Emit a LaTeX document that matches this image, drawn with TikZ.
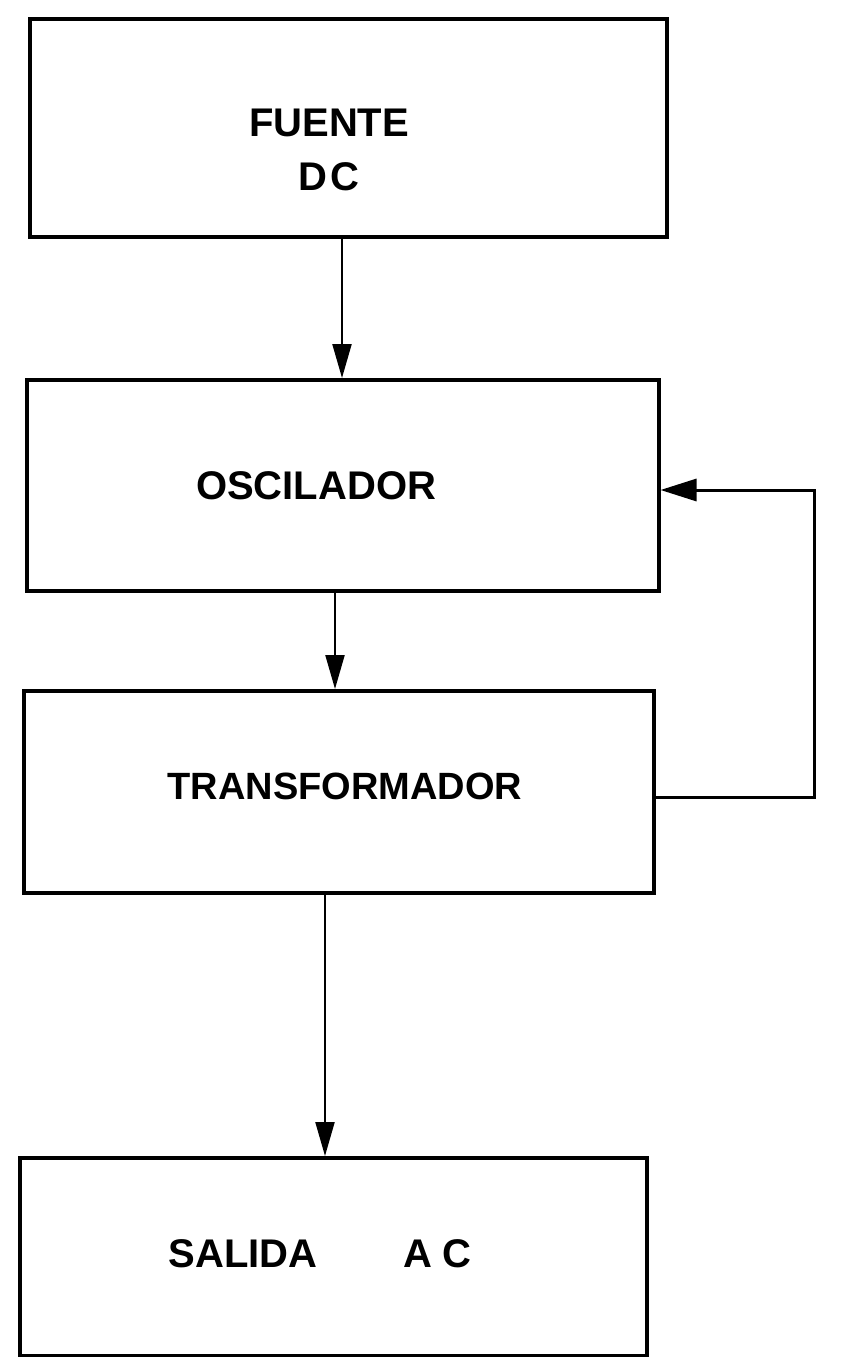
\documentclass[tikz,border=0pt]{standalone}
\usepackage{fontspec}
\setmainfont{Liberation Sans}
\usetikzlibrary{arrows.meta,calc}
\begin{document}
\begin{tikzpicture}[x=1pt,y=-1pt,
  blockbox/.style={draw=black, line width=3.5pt, rectangle, inner sep=0pt, anchor=north west},
  lbl/.style={font=\bfseries\fontsize{40}{54}\selectfont, inner sep=0pt, align=center},
  flow/.style={draw=black, line width=2.2pt, -{Triangle[length=34pt,width=19pt]}},
  fb/.style={draw=black, line width=3pt, -{Triangle[length=36pt,width=22pt]}}]
\useasboundingbox[fill=white] (0,0) rectangle (864,1357);
% boxes
\node[blockbox, minimum width=637pt, minimum height=218pt] (b1) at (28,17) {};
\node[blockbox, minimum width=632pt, minimum height=211pt] (b2) at (25,378) {};
\node[blockbox, minimum width=630pt, minimum height=202pt] (b3) at (22,689) {};
\node[blockbox, minimum width=627pt, minimum height=198pt] (b4) at (18,1156) {};
% labels
\node[lbl] (t1) at (329,150) {FUENTE\\D\hspace{4pt}C};
\node[lbl] (t2) at (316,486) {OSCILADOR};
\node[lbl, font=\bfseries\fontsize{38}{44}\selectfont] (t3) at (345,786) {TRANSFORMADOR};
\node[lbl] (t4) at (320,1254) {SALIDA\hspace{86pt}A\hspace{10pt}C};
% connectors
\coordinate (a1s) at (342,0);
\coordinate (a2s) at (335,0);
\coordinate (a3s) at (325,0);
\draw[flow] (b1.south -| a1s) -- (b2.north -| a1s);
\draw[flow] (b2.south -| a2s) -- (b3.north -| a2s);
\draw[flow] (b3.south -| a3s) -- (b4.north -| a3s);
\coordinate (fr) at (814,0);
\coordinate (fy1) at (0,797);
\coordinate (fy2) at (0,490);
\draw[fb] (b3.east |- fy1) -- (fr |- fy1) -- (fr |- fy2) -- (b2.east |- fy2);
\end{tikzpicture}
\end{document}
